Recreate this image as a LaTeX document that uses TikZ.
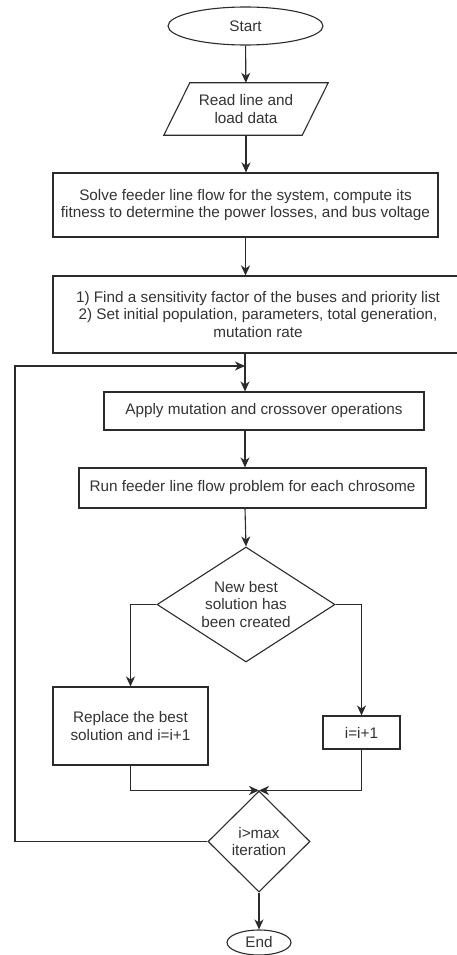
\documentclass[tikz,border=0pt]{standalone}
\usepackage{fontspec}
\setmainfont{Liberation Sans}
\usetikzlibrary{shapes.geometric,arrows.meta,calc}
\definecolor{ln}{HTML}{2B2B2B}
\definecolor{tx}{HTML}{333333}
\begin{document}
\begin{tikzpicture}[x=1pt,y=-1pt,
  every node/.style={font=\fontsize{15.3}{17.7}\selectfont, text=tx, inner sep=0pt, align=center},
  box/.style={draw=ln, line width=1.1pt, rectangle},
  term/.style={draw=ln, line width=1.1pt, ellipse},
  dec/.style={draw=ln, line width=1.1pt, diamond},
  edge/.style={draw=ln, line width=1.1pt},
  arr/.style={draw=ln, line width=1.1pt, -{Stealth[length=10pt,width=9pt,inset=3pt]}},
]
\useasboundingbox (0,0) rectangle (456,955);
\node[term, minimum width=155pt, minimum height=38pt] (start) at (245.5,26) {Start};
\node[minimum width=138pt, minimum height=52pt] (read) at (246,109) {Read line and\\load data};
\draw[edge] ($(read.north west)+(13,0)$) -- ($(read.north east)+(13,0)$) -- ($(read.south east)+(-13,0)$) -- ($(read.south west)+(-13,0)$) -- cycle;
\node[box, minimum width=385pt, minimum height=64pt] (solve) at (245.5,205) {Solve feeder line flow for the system, compute its\\fitness to determine the power losses, and bus voltage};
\node[box, minimum width=410pt, minimum height=77pt] (find) at (258,314.5) {1) Find a sensitivity factor of the buses and priority list\\2) Set initial population, parameters, total generation,\\mutation rate};
\node[box, minimum width=320pt, minimum height=38pt] (apply) at (264,411) {Apply mutation and crossover operations};
\node[box, minimum width=347pt, minimum height=40pt] (run) at (252.5,488) {Run feeder line flow problem for each chrosome};
\node[dec, shape aspect=1.55, minimum width=178pt, minimum height=115pt] (dec1) at (246,604.5) {New best\\solution has\\been created};
\node[box, minimum width=155pt, minimum height=78pt] (rep) at (130.5,726) {Replace the best\\solution and i=i+1};
\node[box, minimum width=77pt, minimum height=33pt] (inc) at (361.5,732.5) {i=i+1};
\node[dec, minimum width=102pt, minimum height=101pt] (dec2) at (259,841.5) {i>max\\iteration};
\node[term, minimum width=64pt, minimum height=25pt] (end) at (259,942.5) {End};
\coordinate (m) at (245,366);
\coordinate (lp) at (15,366);
\draw[arr] (start) -- (read);
\draw[arr] (read.south) -- (read.south |- solve.north);
\draw[arr] (solve.south) -- (solve.south |- find.north);
\draw[arr] (find.south -| m) -- (apply.north -| m);
\draw[arr] (dec2.west) -- (dec2.west -| lp) -- (lp) -- (m);
\draw[arr] (apply.south -| m) -- (run.north -| m);
\draw[arr] (run.south -| m) -- (dec1.north);
\draw[arr] (dec1.west) -| (rep.north);
\draw[arr] (dec1.east) -| (inc.north);
\draw[arr] (rep.south) |- (dec2.north);
\draw[arr] (inc.south) |- (dec2.north);
\draw[arr] (dec2.south) -- (end.north);
\end{tikzpicture}
\end{document}
